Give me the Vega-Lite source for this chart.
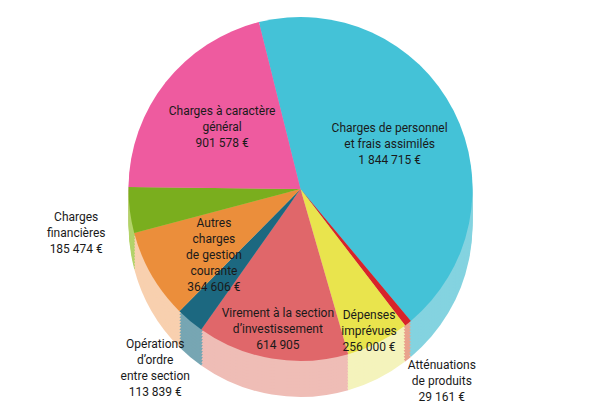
{
  "$schema": "https://vega.github.io/schema/vega-lite/v6.json",
  "width": 601,
  "height": 414,
  "autosize": {"type": "none"},
  "padding": 0,
  "background": "white",
  "config": {"view": {"stroke": null}, "text": {"font": "Roboto, sans-serif", "fontSize": 12, "lineBreak": "\n", "lineHeight": 16, "color": "#1a1a1a", "align": "center", "baseline": "middle"}},
  "data": {"values": [
    {"name": "Charges de personnel et frais assimilés", "value": 1844715, "label": "Charges de personnel\net frais assimilés\n1 844 715 €"},
    {"name": "Atténuations de produits", "value": 29161, "label": "Atténuations\nde produits\n29 161 €"},
    {"name": "Dépenses imprévues", "value": 256000, "label": "Dépenses\nimprévues\n256 000 €"},
    {"name": "Virement à la section d'investissement", "value": 614905, "label": "Virement à la section\nd’investissement\n614 905"},
    {"name": "Opérations d'ordre entre section", "value": 113839, "label": "Opérations\nd’ordre\nentre section\n113 839 €"},
    {"name": "Autres charges de gestion courante", "value": 364606, "label": "Autres\ncharges\nde gestion\ncourante\n364 606 €"},
    {"name": "Charges financières", "value": 185474, "label": "Charges\nfinancières\n185 474 €"},
    {"name": "Charges à caractère général", "value": 901578, "label": "Charges à caractère\ngénéral\n901 578 €"}
  ]},
  "transform": [{"window": [{"op": "row_number", "as": "idx"}]}],
  "encoding": {
    "theta": {"field": "value", "type": "quantitative", "stack": true, "scale": {"range": [-0.2443, 6.0389]}},
    "order": {"field": "idx", "type": "quantitative"}
  },
  "layer": [
    {
      "encoding": {"color": {"field": "name", "type": "nominal", "legend": null, "scale": {"domain": ["Charges de personnel et frais assimilés", "Atténuations de produits", "Dépenses imprévues", "Virement à la section d'investissement", "Opérations d'ordre entre section", "Autres charges de gestion courante", "Charges financières", "Charges à caractère général"], "range": ["#84D3E0", "#E9A38D", "#F4F3BC", "#EFBDB6", "#77A6B3", "#F8D0AF", "#B3D36A", "#F2A0C5"]}}},
      "layer": [
        {"mark": {"type": "arc", "outerRadius": 172, "yOffset": 18}},
        {"mark": {"type": "arc", "outerRadius": 172, "yOffset": 15}},
        {"mark": {"type": "arc", "outerRadius": 172, "yOffset": 12}},
        {"mark": {"type": "arc", "outerRadius": 172, "yOffset": 9}},
        {"mark": {"type": "arc", "outerRadius": 172, "yOffset": 6}},
        {"mark": {"type": "arc", "outerRadius": 172, "yOffset": 3}},
        {"mark": {"type": "arc", "outerRadius": 172, "yOffset": 0}},
        {"mark": {"type": "arc", "outerRadius": 172, "yOffset": -3}},
        {"mark": {"type": "arc", "outerRadius": 172, "yOffset": -6}},
        {"mark": {"type": "arc", "outerRadius": 172, "yOffset": -9}},
        {"mark": {"type": "arc", "outerRadius": 172, "yOffset": -12}},
        {"mark": {"type": "arc", "outerRadius": 172, "yOffset": -15}}
      ]
    },
    {
      "mark": {"type": "arc", "outerRadius": 172, "yOffset": -18},
      "encoding": {"color": {"field": "name", "type": "nominal", "legend": null, "scale": {"domain": ["Charges de personnel et frais assimilés", "Atténuations de produits", "Dépenses imprévues", "Virement à la section d'investissement", "Opérations d'ordre entre section", "Autres charges de gestion courante", "Charges financières", "Charges à caractère général"], "range": ["#44C2D7", "#D8232A", "#E9E44D", "#E0676A", "#1C6880", "#EB8E3B", "#7AAE1E", "#EE5B9F"]}}}
    },
    {
      "mark": {"type": "text", "radius": 100, "yOffset": -34},
      "encoding": {"text": {"field": "label"}, "detail": {"field": "name"},
        "opacity": {"condition": {"test": "datum.name === 'Charges de personnel et frais assimilés' || datum.name === 'Charges à caractère général' || datum.name === 'Autres charges de gestion courante'", "value": 1}, "value": 0}}
    },
    {
      "mark": {"type": "text", "radius": 136, "yOffset": -28},
      "encoding": {"text": {"field": "label"}, "detail": {"field": "name"},
        "opacity": {"condition": {"test": "datum.name === 'Virement à la section d\\'investissement'", "value": 1}, "value": 0}}
    },
    {
      "mark": {"type": "text", "radius": 152, "yOffset": -28},
      "encoding": {"text": {"field": "label"}, "detail": {"field": "name"},
        "opacity": {"condition": {"test": "datum.name === 'Dépenses imprévues'", "value": 1}, "value": 0}}
    },
    {
      "mark": {"type": "text", "radius": 226, "yOffset": -18},
      "encoding": {"text": {"field": "label"}, "detail": {"field": "name"},
        "opacity": {"condition": {"test": "datum.name === 'Charges financières' || datum.name === 'Atténuations de produits'", "value": 1}, "value": 0}}
    },
    {
      "mark": {"type": "text", "radius": 226, "yOffset": -36},
      "encoding": {"text": {"field": "label"}, "detail": {"field": "name"},
        "opacity": {"condition": {"test": "datum.name === 'Opérations d\\'ordre entre section'", "value": 1}, "value": 0}}
    }
  ],
  "resolve": {"scale": {"color": "independent"}}
}
